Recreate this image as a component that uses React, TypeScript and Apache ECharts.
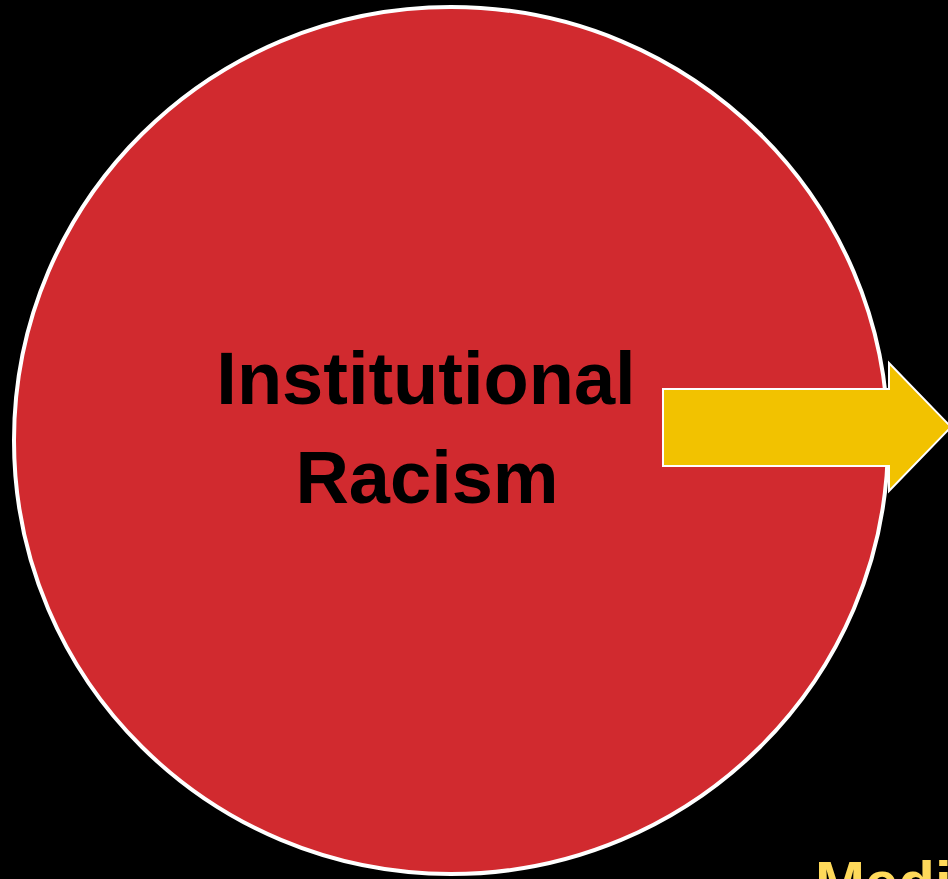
import React, { useEffect, useRef } from "react";
import * as echarts from "echarts";

// Diagram content
const circleLabelLines: string[] = ["Institutional", "Racism"];
const bottomLabel: string = "Media";
// Arrow outline (x, y) in page pixels
const arrowPoints: number[][] = [
  [663, 389],
  [889, 389],
  [889, 363],
  [951, 427],
  [889, 491],
  [889, 466],
  [663, 466],
];

export default function App() {
  const ref = useRef<HTMLDivElement>(null);
  useEffect(() => {
    document.body.style.margin = "0";
    document.body.style.background = "#000";
    if (!ref.current) return;
    const chart = echarts.init(ref.current, null, { renderer: "svg" });
    chart.setOption({
      animation: false,
      backgroundColor: "#000000",
      graphic: [
        {
          type: "ellipse",
          shape: { cx: 451, cy: 440.5, rx: 437, ry: 433.5 },
          style: { fill: "#D12A2F", stroke: "#FFFFFF", lineWidth: 4 },
          z: 1,
        },
        {
          type: "polygon",
          shape: { points: arrowPoints },
          style: { fill: "#F2C200", stroke: "#FFFFFF", lineWidth: 2 },
          z: 2,
        },
        {
          type: "text",
          x: 426,
          y: 378,
          style: {
            text: circleLabelLines[0],
            fill: "#000000",
            font: "bold 74px 'Liberation Sans', Arial, sans-serif",
            textAlign: "center",
            textVerticalAlign: "middle",
          },
          z: 3,
        },
        {
          type: "text",
          x: 427,
          y: 477,
          style: {
            text: circleLabelLines[1],
            fill: "#000000",
            font: "bold 74px 'Liberation Sans', Arial, sans-serif",
            textAlign: "center",
            textVerticalAlign: "middle",
          },
          z: 3,
        },
        {
          type: "text",
          x: 815,
          y: 912,
          style: {
            text: bottomLabel,
            fill: "#FFD95A",
            font: "bold 60px 'Liberation Sans', Arial, sans-serif",
            textAlign: "left",
            textVerticalAlign: "bottom",
          },
          z: 3,
        },
      ],
    });
    return () => chart.dispose();
  }, []);
  return <div ref={ref} style={{ width: 948, height: 879 }} />;
}
